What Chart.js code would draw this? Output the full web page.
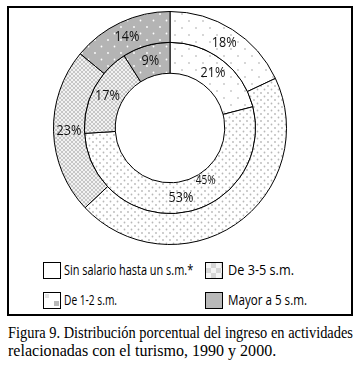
<!DOCTYPE html>
<html><head><meta charset="utf-8">
<script src="https://cdn.jsdelivr.net/npm/chart.js@4.4.1/dist/chart.umd.min.js"></script>
<style>
html,body{margin:0;padding:0;background:#fff;width:362px;height:366px;overflow:hidden;position:relative}
#frame{position:absolute;left:7px;top:6px;width:346px;height:310px;border:2px solid #000;box-sizing:border-box}
#wrap{position:absolute;left:53px;top:11px;width:234px;height:234px}
.lb{position:absolute;width:18px;height:17px;border:1px solid #000;box-sizing:border-box;background:#fff}
.lt{position:absolute;font-family:'Open Sans',sans-serif;font-size:15px;color:#000;white-space:nowrap;transform-origin:0 50%;line-height:17px}
.cap{position:absolute;left:8px;font-family:'Liberation Serif',serif;font-size:17px;color:#000;white-space:nowrap;transform-origin:0 50%;line-height:18px}
</style>
</head><body>
<div id="frame"></div>
<div id="wrap"><canvas id="c" width="234" height="234"></canvas></div>
<div id="legend"></div>
<div class="cap" id="cap1" style="top:324px"></div>
<div class="cap" id="cap2" style="top:342px"></div>
<script>
// ---- data ----
const categories = ['Sin salario hasta un s.m.*', 'De 1-2 s.m.', 'De 3-5 s.m.', 'Mayor a 5 s.m.'];
const outerRing = [18, 45, 23, 14];
const innerRing = [21, 53, 17, 9];
const captionLines = ['Figura 9. Distribución porcentual del ingreso en actividades', 'relacionadas con el turismo, 1990 y 2000.'];

// ---- patterns ----
function tile(w, h, draw) {
  const c = document.createElement('canvas'); c.width = w; c.height = h;
  const x = c.getContext('2d'); draw(x, w, h);
  return document.getElementById('c').getContext('2d').createPattern(c, 'repeat');
}
function dot(x, cx, cy, r, col) { x.fillStyle = col; x.beginPath(); x.arc(cx, cy, r, 0, Math.PI * 2); x.fill(); }
const patWhite = tile(14, 14, (x, w, h) => { x.fillStyle = '#fff'; x.fillRect(0, 0, w, h); dot(x, 3, 3, 0.9, '#c4c4c4'); dot(x, 10, 10, 0.9, '#c4c4c4'); });
const patDots = tile(7, 7, (x, w, h) => { x.fillStyle = '#fff'; x.fillRect(0, 0, w, h); dot(x, 1.5, 1.5, 0.9, '#b8b8b8'); dot(x, 5, 5, 0.9, '#b8b8b8'); });
const patCheck = tile(4, 4, (x, w, h) => { x.fillStyle = '#f2f2f2'; x.fillRect(0, 0, w, h); x.fillStyle = '#c6c6c6'; x.fillRect(0, 0, 2, 2); x.fillRect(2, 2, 2, 2); });
const patGray = tile(13, 13, (x, w, h) => { x.fillStyle = '#b4b4b4'; x.fillRect(0, 0, w, h); dot(x, 3, 3, 0.9, '#ffffff'); dot(x, 9.5, 9.5, 0.9, '#ffffff'); });
const fills = [patWhite, patDots, patCheck, patGray];

// ---- labels plugin ----
const labelPlugin = {
  id: 'ringLabels',
  afterDatasetsDraw(chart) {
    const ctx = chart.ctx;
    const metas = [chart.getDatasetMeta(0), chart.getDatasetMeta(1)];
    ctx.save();
    ctx.fillStyle = '#111';
    ctx.textAlign = 'center'; ctx.textBaseline = 'middle';
    metas.forEach((meta, di) => {
      meta.data.forEach((arc, i) => {
        const p = arc.getProps(['x', 'y', 'startAngle', 'endAngle', 'innerRadius', 'outerRadius'], true);
        const a = (p.startAngle + p.endAngle) / 2;
        let r = (p.innerRadius + p.outerRadius) / 2;
        let size = 15;
        if (di === 0 && i === 1) { // this label sits inside the inner ring in the original
          const w = p.outerRadius - p.innerRadius;
          r = p.innerRadius - 0.72 * w; size = 12;
        }
        ctx.font = size + 'px "Open Sans", sans-serif';
        const v = chart.data.datasets[di].data[i];
        ctx.save();
        ctx.translate(p.x + Math.cos(a) * r, p.y + Math.sin(a) * r);
        ctx.scale(0.84, 1);
        ctx.fillText(v + '%', 0, 0);
        ctx.restore();
      });
    });
    ctx.restore();
  }
};

new Chart(document.getElementById('c'), {
  type: 'doughnut',
  data: {
    labels: categories,
    datasets: [
      { label: 'Anillo exterior', data: outerRing, backgroundColor: fills, borderColor: '#000', borderWidth: 1, borderAlign: 'center' },
      { label: 'Anillo interior', data: innerRing, backgroundColor: fills, borderColor: '#000', borderWidth: 1, borderAlign: 'center' }
    ]
  },
  options: {
    responsive: false, animation: false, cutout: '47%',
    layout: { padding: 0 },
    plugins: { legend: { display: false }, tooltip: { enabled: false } }
  },
  plugins: [labelPlugin]
});

// ---- legend (HTML) ----
const legendPos = [[43, 262, 64], [43, 292, 64], [205, 262, 228], [205, 292, 228]];
const legendBg = [
  '#fff',
  'linear-gradient(#b9b9b9,#b9b9b9) 10px 8px/5px 5px no-repeat, linear-gradient(#e2e2e2,#e2e2e2) 1px 1px/4px 4px no-repeat, #fff',
  'repeating-conic-gradient(#d6d6d6 0 25%, #f4f4f4 0 50%) 0 0/10px 10px',
  '#b9b9b9'
];
const legendW = [129, 53, 66, 79];
const lg = document.getElementById('legend');
categories.forEach((name, i) => {
  const [bx, by, tx] = legendPos[i];
  const b = document.createElement('div'); b.className = 'lb';
  b.style.left = bx + 'px'; b.style.top = by + 'px'; b.style.background = legendBg[i];
  lg.appendChild(b);
  const t = document.createElement('div'); t.className = 'lt'; t.textContent = name;
  t.style.left = tx + 'px'; t.style.top = (by - 1) + 'px';
  lg.appendChild(t);
  t.style.transform = 'scaleX(' + (legendW[i] / t.scrollWidth) + ')';
});
// ---- caption ----
const capW = [345, 268];
['cap1', 'cap2'].forEach((id, i) => {
  const el = document.getElementById(id); el.textContent = captionLines[i];
  el.style.transform = 'scaleX(' + (capW[i] / el.scrollWidth) + ')';
});
</script>
</body></html>
